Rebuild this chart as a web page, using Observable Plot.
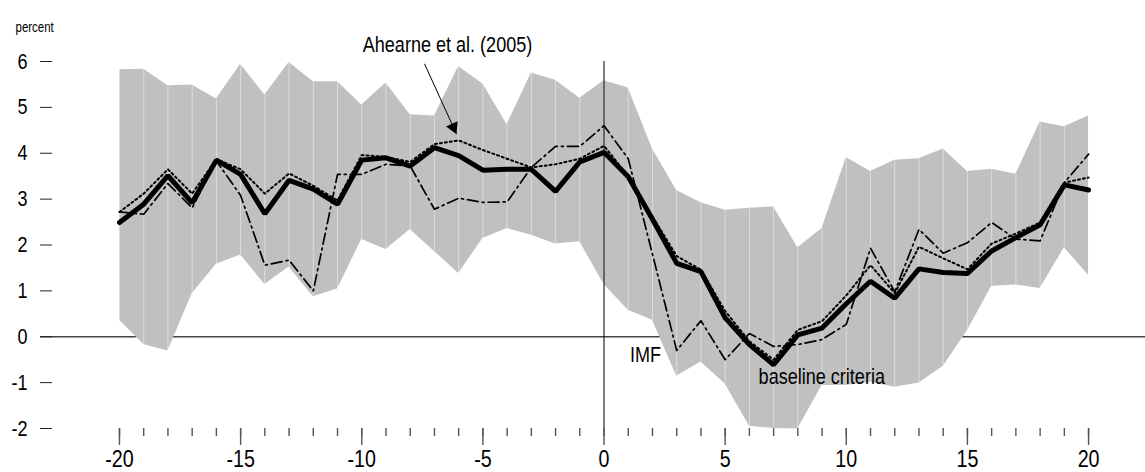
<!DOCTYPE html>
<html><head><meta charset="utf-8">
<script src="https://cdn.jsdelivr.net/npm/d3@7"></script>
<script src="https://cdn.jsdelivr.net/npm/@observablehq/plot@0.6"></script>
<style>
html,body{margin:0;padding:0;background:#fff;}
#chart svg{display:block;}
</style></head><body><div id="chart"></div>
<script>
// Quarters relative to the event (t = 0)
const periods = d3.range(-20, 21);
// Grey band (range across episodes)
const bandUpper = [5.82,5.83,5.47,5.49,5.18,5.94,5.27,5.98,5.56,5.56,5.05,5.53,4.84,4.81,5.89,5.51,4.62,5.75,5.59,5.20,5.58,5.42,4.09,3.19,2.92,2.76,2.80,2.83,1.94,2.36,3.91,3.60,3.85,3.88,4.09,3.60,3.65,3.54,4.68,4.58,4.81];
const bandLower = [0.36,-0.17,-0.31,0.94,1.58,1.78,1.14,1.52,0.87,1.04,2.12,1.90,2.34,1.86,1.38,2.14,2.36,2.21,2.02,2.07,1.14,0.58,0.36,-0.86,-0.55,-1.03,-1.95,-2.00,-2.01,-1.06,-1.06,-0.99,-1.10,-1.01,-0.65,0.13,1.10,1.13,1.05,1.94,1.34];
// Series
const baseline = [2.49,2.89,3.51,2.92,3.85,3.54,2.68,3.41,3.22,2.89,3.85,3.90,3.72,4.12,3.95,3.63,3.65,3.65,3.17,3.81,4.02,3.49,2.56,1.60,1.42,0.41,-0.17,-0.61,0.04,0.19,0.72,1.21,0.84,1.48,1.40,1.38,1.87,2.16,2.44,3.31,3.20];
const ahearne = [2.72,3.12,3.65,3.12,3.87,3.65,3.12,3.56,3.29,2.97,3.96,3.92,3.81,4.20,4.28,4.07,3.88,3.69,3.76,3.88,4.16,3.50,2.62,1.76,1.46,0.56,-0.10,-0.50,0.15,0.34,0.90,1.56,0.95,1.96,1.71,1.47,2.03,2.25,2.49,3.36,3.47];
const imf = [2.72,2.67,3.34,2.81,3.83,3.08,1.56,1.67,1.00,3.54,3.54,3.76,3.72,2.78,3.02,2.93,2.94,3.69,4.15,4.15,4.60,3.88,1.80,-0.30,0.35,-0.50,0.07,-0.21,-0.17,-0.06,0.27,1.93,0.98,2.34,1.82,2.05,2.49,2.13,2.09,3.36,3.98];
// Ticks and labels
const yTicks = [-2,-1,0,1,2,3,4,5,6];
const xMajorTicks = [-20,-15,-10,-5,0,5,10,15,20];
const xMinorTicks = periods;
const unitLabel = "percent";
const labelAhearne = "Ahearne et al. (2005)";
const labelIMF = "IMF";
const labelBaseline = "baseline criteria";

const rows = periods.map((t, i) => ({t, lo: bandLower[i], hi: bandUpper[i], base: baseline[i], ah: ahearne[i], imf: imf[i]}));

const FONT = '"Liberation Sans", Arial, sans-serif';
const NARROW = 0.82; // narrow (condensed) typeface look

const chart = Plot.plot({
  width: 1145, height: 472,
  marginLeft: 40, marginRight: 0, marginTop: 61, marginBottom: 44,
  style: {fontFamily: FONT, background: "#fff", color: "#000"},
  x: {domain: [-23.26, 22.35]},
  y: {domain: [-2, 6]},
  marks: [
    Plot.ruleY([0], {stroke: "#444", strokeWidth: 1.3}),
    Plot.areaY(rows, {x: "t", y1: "lo", y2: "hi", fill: "#c0c0c0"}),
    Plot.ruleX(rows, {x: "t", y1: "lo", y2: "hi", stroke: "#fff", strokeOpacity: 0.45, strokeWidth: 1}),
    Plot.ruleX([0], {y1: -2, y2: 6, stroke: "#000", strokeWidth: 1}),
    Plot.line(rows, {x: "t", y: "imf", stroke: "#000", strokeWidth: 1.7, strokeDasharray: "11,4,2,4"}),
    Plot.line(rows, {x: "t", y: "ah", stroke: "#000", strokeWidth: 2, strokeDasharray: "2,3"}),
    Plot.line(rows, {x: "t", y: "base", stroke: "#000", strokeWidth: 5, strokeLinejoin: "miter"}),
    Plot.axisY(yTicks, {anchor: "left", tickSize: 12, tickPadding: 13, dx: 12, fontSize: 22, stroke: "#222", tickFormat: d => String(d), label: null}),
    Plot.axisX(xMinorTicks, {anchor: "bottom", tickSize: 8, stroke: "#555", strokeWidth: 1.4, tickFormat: () => "", label: null}),
    Plot.axisX(xMajorTicks, {anchor: "bottom", tickSize: 17, tickPadding: 4, stroke: "#555", strokeWidth: 1.4, fontSize: 24, tickFormat: d => String(d), label: null}),
    Plot.text([unitLabel], {frameAnchor: "top-left", dx: -25, dy: -39, textAnchor: "start", fontSize: 14}),
    Plot.text([labelAhearne], {x: -6.46, y: 6.37, fontSize: 22}),
    Plot.link([0], {x1: -7.41, y1: 5.95, x2: -6.09, y2: 4.42, stroke: "#000", strokeWidth: 1}),
    Plot.dot([0], {x: -6.09, y: 4.42, symbol: "triangle", r: 4.75, fill: "#000", stroke: null, rotate: 155.4, dx: -3.1, dy: -6.7}),
    Plot.text([labelIMF], {x: 1.71, y: -0.40, fontSize: 22}),
    Plot.text([labelBaseline], {x: 6.38, y: -0.88, textAnchor: "start", fontSize: 22})
  ]
});
document.getElementById("chart").append(chart);
// Condense glyphs horizontally so the sans face reads like a narrow typeface
chart.querySelectorAll("text").forEach(t => {
  const spans = t.querySelectorAll("tspan");
  const els = spans.length ? Array.from(spans) : [t];
  els.forEach(el => {
    const w = el.getComputedTextLength();
    if (w > 0) {
      el.setAttribute("textLength", (w * NARROW).toFixed(2));
      el.setAttribute("lengthAdjust", "spacingAndGlyphs");
    }
  });
});
</script></body></html>
